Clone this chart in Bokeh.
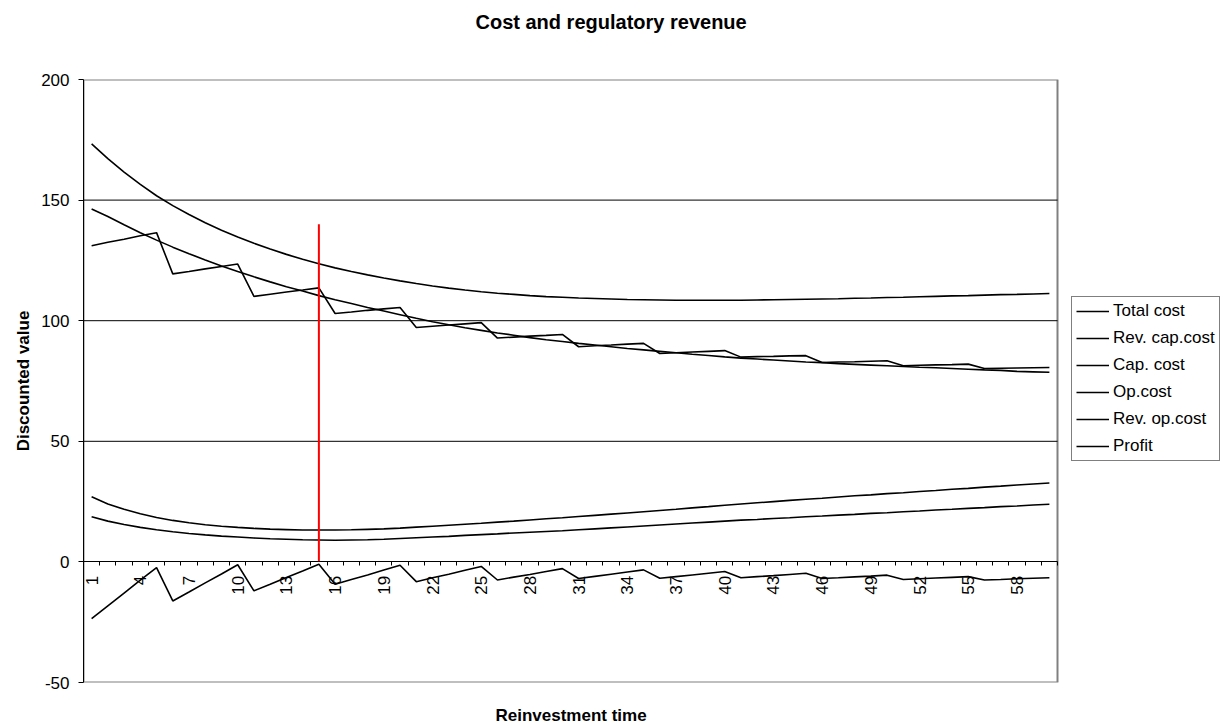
from math import pi
from bokeh.plotting import figure
from bokeh.models import (Range1d, LinearAxis, FixedTicker, Legend, LegendItem,
                          Title, ColumnDataSource)
from bokeh.embed import file_html
from bokeh.resources import INLINE

# ---------------- data ----------------
periods = list(range(1, 61))

total_cost = [173.3, 167.2, 161.6, 156.5, 151.8, 147.7, 144.0, 140.6, 137.5, 134.7,
              132.1, 129.7, 127.5, 125.5, 123.6, 121.9, 120.4, 119.0, 117.7, 116.5,
              115.4, 114.4, 113.5, 112.7, 112.0, 111.4, 110.9, 110.4, 110.0, 109.7,
              109.4, 109.2, 109.0, 108.8, 108.7, 108.6, 108.5, 108.5, 108.5, 108.5,
              108.5, 108.6, 108.7, 108.8, 108.9, 109.0, 109.1, 109.3, 109.4, 109.6,
              109.7, 109.9, 110.1, 110.3, 110.4, 110.6, 110.8, 110.9, 111.1, 111.3]

rev_cap_cost = [131.1, 132.5, 133.8, 135.2, 136.5, 119.4, 120.4, 121.5, 122.5, 123.5,
                110.1, 111.0, 111.9, 112.7, 113.6, 103.0, 103.6, 104.3, 104.9, 105.5,
                97.2, 97.7, 98.2, 98.7, 99.2, 92.8, 93.2, 93.6, 93.9, 94.3,
                89.2, 89.6, 89.9, 90.3, 90.6, 86.4, 86.7, 87.0, 87.3, 87.6,
                84.9, 85.1, 85.2, 85.4, 85.5, 82.7, 82.9, 83.0, 83.2, 83.4,
                81.3, 81.5, 81.7, 81.8, 82.0, 80.2, 80.3, 80.4, 80.5, 80.6]

cap_cost = [146.3, 143.2, 139.8, 136.5, 133.4, 130.5, 127.8, 125.2, 122.7, 120.4,
            118.2, 116.1, 114.1, 112.3, 110.4, 108.7, 107.1, 105.5, 104.0, 102.5,
            101.0, 99.6, 98.3, 97.1, 96.0, 94.9, 94.0, 93.0, 92.1, 91.4,
            90.6, 89.9, 89.2, 88.5, 87.9, 87.3, 86.7, 86.1, 85.6, 85.0,
            84.5, 84.1, 83.7, 83.3, 82.9, 82.6, 82.2, 81.9, 81.6, 81.3,
            81.0, 80.7, 80.5, 80.2, 79.9, 79.6, 79.4, 79.0, 78.8, 78.6]

op_cost = [27.0, 24.0, 21.8, 20.0, 18.4, 17.2, 16.2, 15.4, 14.8, 14.3,
           13.9, 13.6, 13.4, 13.2, 13.2, 13.2, 13.3, 13.5, 13.7, 14.0,
           14.4, 14.8, 15.2, 15.6, 16.0, 16.5, 16.9, 17.4, 17.9, 18.3,
           18.8, 19.3, 19.8, 20.3, 20.8, 21.3, 21.8, 22.4, 22.9, 23.5,
           24.0, 24.5, 25.0, 25.5, 26.0, 26.4, 26.9, 27.4, 27.8, 28.3,
           28.7, 29.2, 29.6, 30.1, 30.5, 31.0, 31.4, 31.9, 32.3, 32.7]

rev_op_cost = [18.7, 16.9, 15.5, 14.3, 13.3, 12.5, 11.8, 11.2, 10.7, 10.3,
               9.9, 9.6, 9.4, 9.2, 9.1, 9.0, 9.1, 9.2, 9.4, 9.7,
               10.0, 10.3, 10.6, 11.0, 11.3, 11.6, 12.0, 12.3, 12.6, 12.9,
               13.3, 13.7, 14.1, 14.5, 14.9, 15.3, 15.7, 16.1, 16.5, 16.9,
               17.3, 17.6, 18.0, 18.3, 18.7, 19.0, 19.4, 19.7, 20.1, 20.4,
               20.8, 21.1, 21.5, 21.8, 22.2, 22.5, 22.9, 23.2, 23.6, 23.9]

profit = [-23.5, -18.2, -12.9, -7.6, -2.4, -16.2, -12.5, -8.7, -5.0, -1.2,
          -12.0, -9.3, -6.5, -3.8, -1.0, -9.3, -7.3, -5.4, -3.4, -1.4,
          -8.2, -6.6, -5.1, -3.5, -1.9, -7.5, -6.3, -5.2, -4.0, -2.8,
          -6.9, -6.0, -5.1, -4.2, -3.3, -6.8, -6.1, -5.4, -4.7, -4.0,
          -6.6, -6.1, -5.7, -5.2, -4.7, -6.9, -6.6, -6.2, -5.9, -5.5,
          -7.3, -7.0, -6.7, -6.4, -6.1, -7.5, -7.3, -7.0, -6.8, -6.6]

series_names = ["Total cost", "Rev. cap.cost", "Cap. cost", "Op.cost", "Rev. op.cost", "Profit"]

marker_period = [15]
marker_low = [0]
marker_high = [140]

x_tick_labels = ["1", "4", "7", "10", "13", "16", "19", "22", "25", "28",
                 "31", "34", "37", "40", "43", "46", "49", "52", "55", "58"]
y_ticks = [-50, 0, 50, 100, 150, 200]
y_tick_labels = ["-50", "0", "50", "100", "150", "200"]

title_text = "Cost and regulatory revenue"
x_title = "Reinvestment time"
y_title = "Discounted value"

# ---------------- chart ----------------
FONT = "Liberation Sans"
W, H = 1221, 725
FL, FR, FT, FB = 83, 1057, 79, 682   # plot-area edges on the canvas

x_lo = periods[0] - 0.5
x_hi = periods[-1] + 0.5
# the drawing frame runs to the canvas edge so the legend can sit right of the plot area
x_frame_hi = x_hi + (W - FR) * (x_hi - x_lo) / (FR - FL)

src = ColumnDataSource(dict(period=periods, total=total_cost, revcap=rev_cap_cost,
                            cap=cap_cost, op=op_cost, revop=rev_op_cost, profit=profit))

p = figure(width=W, height=H,
           x_range=Range1d(x_lo, x_frame_hi),
           y_range=Range1d(y_ticks[0], y_ticks[-1]),
           output_backend="svg", toolbar_location=None,
           x_axis_location=None, title=None,
           min_border_left=FL, min_border_right=0,
           min_border_top=FT, min_border_bottom=H - FB)

p.background_fill_color = "white"
p.border_fill_color = "white"
p.outline_line_color = None
p.xgrid.visible = False
p.ygrid.visible = False

# plot-area border and horizontal gridlines
p.quad(left=[x_lo], right=[x_hi], bottom=[y_ticks[0]], top=[y_ticks[-1]],
       fill_color=None, line_color="#808080", line_width=2, level="underlay")
grid_vals = [t for t in y_ticks if y_ticks[0] < t < y_ticks[-1] and t != 0]
p.segment(x0=[x_lo] * len(grid_vals), y0=grid_vals, x1=[x_hi] * len(grid_vals), y1=grid_vals,
          line_color="black", line_width=1, level="underlay")

# y axis
yax = p.yaxis[0]
yax.ticker = FixedTicker(ticks=y_ticks)
yax.major_label_overrides = {t: s for t, s in zip(y_ticks, y_tick_labels)}
yax.axis_label = y_title
yax.axis_label_text_font = FONT
yax.axis_label_text_font_size = "17px"
yax.axis_label_text_font_style = "bold"
yax.axis_label_text_color = "black"
yax.axis_label_standoff = 5
yax.major_label_text_font = FONT
yax.major_label_text_font_size = "17px"
yax.major_label_text_color = "black"
yax.major_label_standoff = 9
yax.major_tick_out = 5
yax.major_tick_in = 0
yax.minor_tick_out = 0
yax.minor_tick_in = 0
yax.axis_line_color = "black"
yax.major_tick_line_color = "black"

# category axis crossing at zero
label_positions = [int(s) for s in x_tick_labels]
boundaries = [k + 0.5 for k in range(periods[0] - 1, periods[-1] + 1)]
xax = LinearAxis(fixed_location=0, bounds=(x_lo, x_hi),
                 ticker=FixedTicker(ticks=label_positions, minor_ticks=boundaries),
                 major_label_overrides={pos: lab for pos, lab in zip(label_positions, x_tick_labels)},
                 major_label_orientation=pi / 2,
                 major_tick_out=0, major_tick_in=0,
                 minor_tick_out=4, minor_tick_in=0,
                 minor_tick_line_color="black",
                 axis_line_color="black",
                 major_label_standoff=10,
                 major_label_text_font=FONT,
                 major_label_text_font_size="17px",
                 major_label_text_color="black")
p.add_layout(xax, "below")

# series
cols = ["total", "revcap", "cap", "op", "revop", "profit"]
renderers = []
for c in cols:
    r = p.line("period", c, source=src, line_color="black", line_width=1.6)
    renderers.append(r)

p.segment(x0=marker_period, y0=marker_low, x1=marker_period, y1=marker_high,
          line_color="#FF0000", line_width=2)

legend = Legend(items=[LegendItem(label=n, renderers=[r]) for n, r in zip(series_names, renderers)],
                location=(1071 - FL, FB - 461), margin=0, padding=4, spacing=7,
                glyph_width=33, glyph_height=20, label_height=20, label_standoff=4,
                label_text_font=FONT, label_text_font_size="17px", label_text_color="black",
                border_line_color="black", border_line_width=1,
                background_fill_color="white", background_fill_alpha=1)
p.add_layout(legend)

# chart title: a blank spacer next to the plot area, then the title above it
p.add_layout(Title(text=" ", text_font=FONT, text_font_size="20px", standoff=22,
                   text_color="white"), "above")
p.add_layout(Title(text=title_text, align="left", offset=392, vertical_align="middle",
                   text_font=FONT, text_font_size="20px", text_font_style="bold",
                   text_color="black", standoff=0), "above")

# x-axis title below the plot area
p.add_layout(Title(text=" ", text_font=FONT, text_font_size="12px", standoff=6,
                   text_color="white"), "below")
p.add_layout(Title(text=x_title, align="left", offset=412, vertical_align="middle",
                   text_font=FONT, text_font_size="17px", text_font_style="bold",
                   text_color="black", standoff=0), "below")

open("out.html", "w").write(file_html(p, INLINE))
